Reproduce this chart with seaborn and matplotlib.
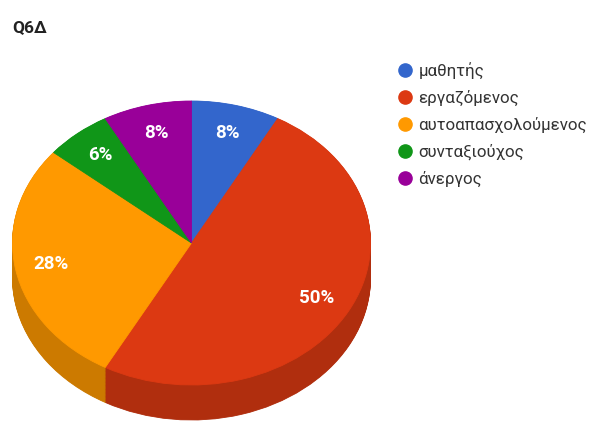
import numpy as np
import matplotlib
matplotlib.use("Agg")
import matplotlib.pyplot as plt
import seaborn as sns
from matplotlib.lines import Line2D
from matplotlib.colors import to_rgb

# Survey answers for question Q6Δ
categories = ["μαθητής", "εργαζόμενος", "αυτοαπασχολούμενος", "συνταξιούχος", "άνεργος"]
counts = [4, 25, 14, 3, 4]
colors = ["#3366cc", "#dc3912", "#ff9900", "#109618", "#990099"]
title = "Q6Δ"

sns.set_theme(style="white")
plt.rcParams["font.family"] = ["Roboto", "DejaVu Sans"]

W, H = 590, 421
fig = plt.figure(figsize=(W / 100, H / 100), dpi=100)
fig.patch.set_facecolor("white")

# Pie geometry in pixels: centre, horizontal / vertical radius, wall depth
cx, cy, rx, ry = 191.5, 243.0, 179.0, 142.0
depth = 35.0 / ry
xlim = (-1.05, 1.05)
ylim = (-1.4, 1.1)
ax_w = (xlim[1] - xlim[0]) * rx
ax_h = (ylim[1] - ylim[0]) * ry
left = cx + xlim[0] * rx
top = cy - ylim[1] * ry
ax = fig.add_axes([left / W, (H - top - ax_h) / H, ax_w / W, ax_h / H])


def shade(col, f):
    return tuple(c * f for c in to_rgb(col))


side_colors = [shade(c, 0.8) for c in colors]

# Side wall: stacked copies of the pie, shifted downward
for off in np.linspace(-depth, -0.5 / ry, 45):
    wedges, _ = ax.pie(counts, colors=side_colors, startangle=90,
                       counterclock=False, center=(0, off))
    for w in wedges:
        w.set_edgecolor(w.get_facecolor())
        w.set_linewidth(0.6)

# Top face with percentage labels
wedges, texts, autotexts = ax.pie(
    counts, colors=colors, startangle=90, counterclock=False,
    autopct=lambda p: f"{p:.0f}%", pctdistance=0.8,
    textprops=dict(color="white", fontsize=13.5, fontweight="bold"))
for w in wedges:
    w.set_edgecolor(w.get_facecolor())
    w.set_linewidth(0.6)

ax.set_aspect("auto")
ax.set_xlim(xlim)
ax.set_ylim(ylim)
ax.axis("off")

fig.text(12 / W, 1 - 20 / H, title, ha="left", va="top",
         fontsize=12.5, fontweight="bold", color="#222222")

handles = [Line2D([], [], marker="o", linestyle="none", markersize=9.5,
                  markerfacecolor=c, markeredgecolor=c) for c in colors]
fig.legend(handles, categories, loc="upper left",
           bbox_to_anchor=(396.5 / W, 1 - 62 / H), frameon=False,
           fontsize=12.2, handlelength=1.0, handletextpad=0.3,
           labelspacing=0.64, borderaxespad=0, borderpad=0,
           labelcolor="#333333")

fig.savefig("out.png", dpi=100, facecolor="white")
